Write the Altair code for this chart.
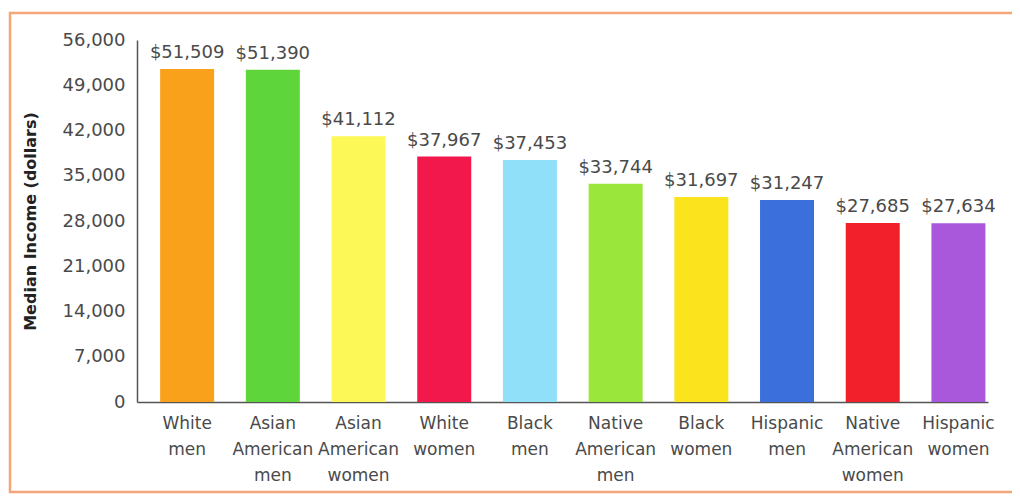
import altair as alt
import pandas as pd

groups = ["White|men", "Asian|American|men", "Asian|American|women", "White|women",
          "Black|men", "Native|American|men", "Black|women", "Hispanic|men",
          "Native|American|women", "Hispanic|women"]
incomes = [51509, 51390, 41112, 37967, 37453, 33744, 31697, 31247, 27685, 27634]
colors = ["#F9A11B", "#5ED53B", "#FCF858", "#F2184B", "#8FE0F8",
          "#9BE63A", "#FBE31E", "#3B6FDC", "#F2202A", "#A957DB"]
y_ticks = [0, 7000, 14000, 21000, 28000, 35000, 42000, 49000, 56000]

df = pd.DataFrame({"group": groups, "income": incomes, "color": colors})
df["label"] = df["income"].map(lambda v: f"${v:,}")

FONT = "DejaVu Sans"
TXT = "#4a4a4a"

x_enc = alt.X("group:N", sort=groups, title=None,
              scale=alt.Scale(paddingInner=0.37, paddingOuter=0.15, align=0.9),
              axis=alt.Axis(labelExpr="split(datum.label, '|')", labelAngle=0,
                            labelFont=FONT, labelFontSize=17, labelColor=TXT,
                            labelLineHeight=26, labelPadding=13, ticks=False,
                            domainColor="#555555", domainWidth=1.5,
                            labelBaseline="top"))
y_enc = alt.Y("income:Q", title="Median Income (dollars)",
              scale=alt.Scale(domain=[0, 56000], nice=False),
              axis=alt.Axis(values=y_ticks, format=",d", ticks=False, grid=False,
                            labelFont=FONT, labelFontSize=18, labelColor=TXT,
                            labelPadding=12, domainColor="#555555", domainWidth=1.5,
                            titleFont=FONT, titleFontSize=16, titleFontWeight="bold",
                            titleColor="#222222", titlePadding=24))

bars = alt.Chart(df).mark_bar().encode(
    x=x_enc, y=y_enc,
    color=alt.Color("color:N", scale=None),
)

texts = alt.Chart(df).mark_text(font=FONT, fontSize=18, color=TXT,
                                baseline="alphabetic", dy=-11).encode(
    x=alt.X("group:N", sort=groups),
    y=alt.Y("income:Q"),
    text="label:N",
)

frame = alt.Chart(pd.DataFrame({"k": [0]})).mark_rect(
    fill="transparent", stroke="#F4A57A", strokeWidth=2.5).encode(
    x=alt.value(-127), x2=alt.value(1000), y=alt.value(-27), y2=alt.value(452))

chart = alt.layer(frame, bars, texts).properties(
    width=851, height=362,
    autosize=alt.AutoSizeParams(type="none"),
    padding={"left": 129, "top": 32, "right": 24, "bottom": 92},
).configure(background="white").configure_view(stroke=None, strokeWidth=0)

chart.save("out.html", embed_options={"renderer": "svg", "actions": False})
